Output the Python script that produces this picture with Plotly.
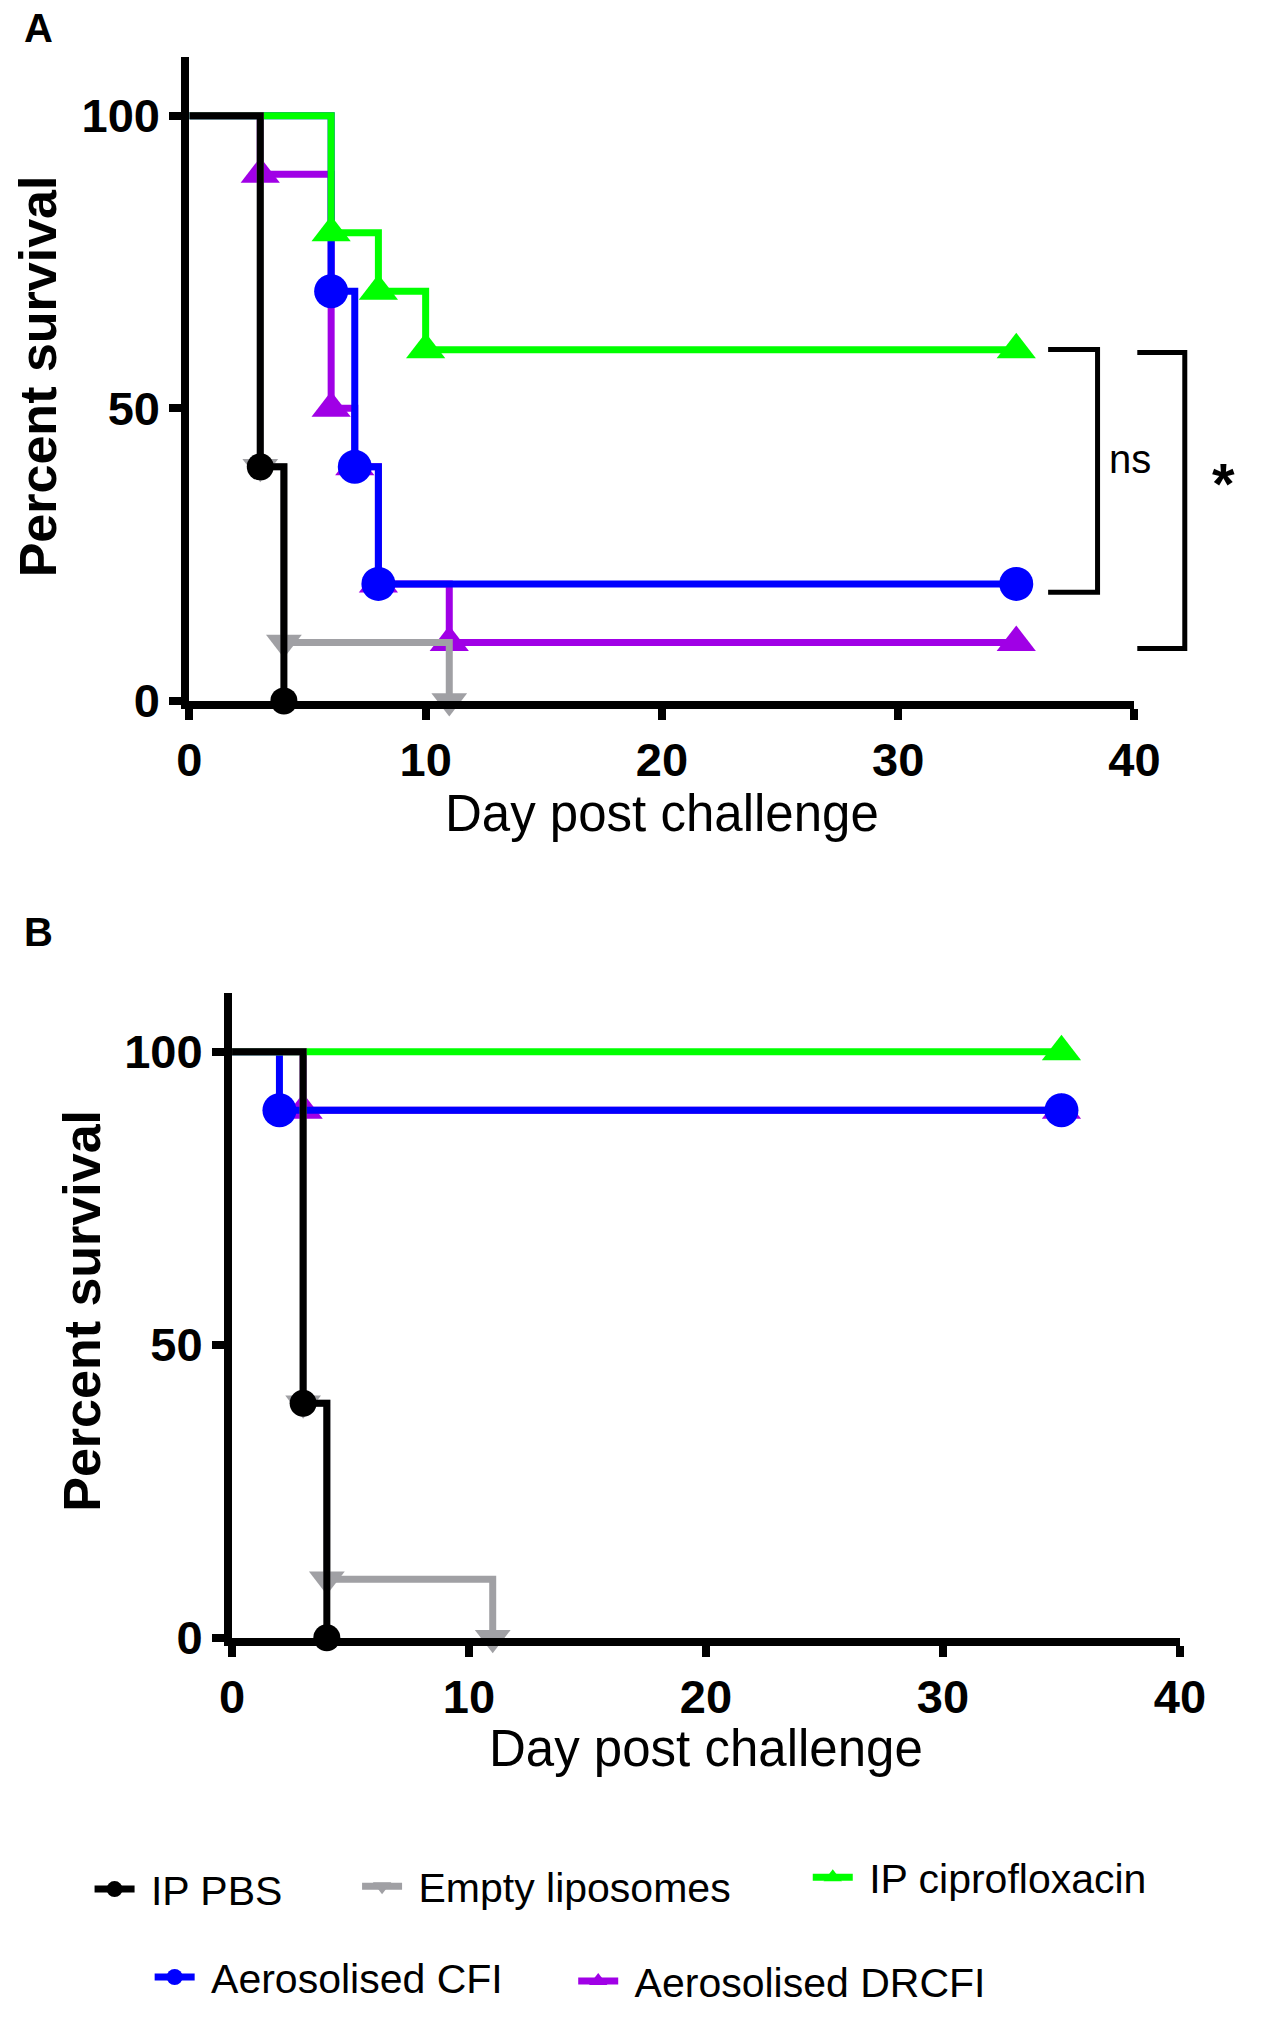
import plotly.graph_objects as go

W, H = 1267, 2028
FONT = "Liberation Sans, Arial, sans-serif"

# ---------------- data ----------------
series_names = ["IP PBS", "Empty liposomes", "IP ciprofloxacin", "Aerosolised CFI", "Aerosolised DRCFI"]
series_colors = ["#000000", "#A0A0A4", "#00FF00", "#0000FF", "#A000E6"]
series_symbols = ["circle", "triangle-down", "triangle-up", "circle", "triangle-up"]

# Panel A: day of event and percent survival after it (first point = start)
a_pbs_day = [0, 3, 4]
a_pbs_surv = [100, 40, 0]
a_empty_day = [0, 3, 4, 11]
a_empty_surv = [100, 40, 10, 0]
a_cipro_day = [0, 6, 8, 10, 35]
a_cipro_surv = [100, 80, 70, 60, 60]
a_cfi_day = [0, 6, 7, 8, 35]
a_cfi_surv = [100, 70, 40, 20, 20]
a_drcfi_day = [0, 3, 6, 7, 8, 11, 35]
a_drcfi_surv = [100, 90, 50, 40, 20, 10, 10]

# Panel B
b_pbs_day = [0, 3, 4]
b_pbs_surv = [100, 40, 0]
b_empty_day = [0, 3, 4, 11]
b_empty_surv = [100, 40, 10, 0]
b_cipro_day = [0, 35]
b_cipro_surv = [100, 100]
b_cfi_day = [0, 2, 35]
b_cfi_surv = [100, 90, 90]
b_drcfi_day = [0, 3, 35]
b_drcfi_surv = [100, 90, 90]

x_tick_vals = [0, 10, 20, 30, 40]
y_tick_vals = [0, 50, 100]

panel_a = [(a_pbs_day, a_pbs_surv), (a_empty_day, a_empty_surv), (a_cipro_day, a_cipro_surv),
           (a_cfi_day, a_cfi_surv), (a_drcfi_day, a_drcfi_surv)]
panel_b = [(b_pbs_day, b_pbs_surv), (b_empty_day, b_empty_surv), (b_cipro_day, b_cipro_surv),
           (b_cfi_day, b_cfi_surv), (b_drcfi_day, b_drcfi_surv)]

# ---------------- styling ----------------
marker_sizes = [27, 31, 34, 34, 34]
LINE_W = 7
AXIS_W = 8


def px_x(x):
    return x / W


def px_y(y):
    return 1 - y / H


fig = go.Figure()

# draw order: last data set at the bottom, first on top
draw_order = [4, 3, 2, 1, 0]
for panel, (xa, ya) in ((panel_a, ("x", "y")), (panel_b, ("x2", "y2"))):
    for i in draw_order:
        days, surv = panel[i]
        fig.add_trace(go.Scatter(
            x=days, y=surv, mode="lines", line=dict(color=series_colors[i], width=LINE_W, shape="hv"),
            xaxis=xa, yaxis=ya, showlegend=False, hoverinfo="skip", cliponaxis=False))
        fig.add_trace(go.Scatter(
            x=days[1:], y=surv[1:], mode="markers",
            marker=dict(color=series_colors[i], symbol=series_symbols[i], size=marker_sizes[i],
                        line=dict(width=0)),
            xaxis=xa, yaxis=ya, showlegend=False, hoverinfo="skip", cliponaxis=False))

# legend entries, one legend per entry so each can be placed like the reference
legend_ids = ["legend", "legend2", "legend3", "legend4", "legend5"]
for i, name in enumerate(series_names):
    fig.add_trace(go.Scatter(
        x=[None], y=[None], mode="lines+markers", name="\u00a0" + name,
        line=dict(color=series_colors[i], width=LINE_W),
        marker=dict(color=series_colors[i], symbol=series_symbols[i], size=marker_sizes[i]),
        legend=legend_ids[i], xaxis="x", yaxis="y"))

# text start (px) and centre y (px) of each legend entry
legend_text_x = [151, 427, 892, 213, 650]
legend_mid_y = [1914, 1911, 1902, 2003, 2007]
leg_layout = {}
for i, lid in enumerate(legend_ids):
    leg_layout[lid] = dict(
        x=px_x(legend_text_x[i] - 72), y=px_y(legend_mid_y[i]), xanchor="left", yanchor="middle",
        bgcolor="rgba(0,0,0,0)", borderwidth=0, orientation="h", itemwidth=40,
        font=dict(family=FONT, size=41, color="black"), itemsizing="trace")

tick_font = dict(family=FONT, size=47, color="black", weight="bold")


def xaxis_cfg(domain, anchor):
    return dict(domain=domain, anchor=anchor, range=[0, 40], tickmode="array", tickvals=x_tick_vals,
                showgrid=False, zeroline=False, showline=True, linecolor="black", linewidth=AXIS_W,
                ticks="outside", ticklen=11, tickwidth=AXIS_W, tickcolor="black", tickfont=tick_font)


def yaxis_cfg(domain, anchor):
    return dict(domain=domain, anchor=anchor, range=[0, 110], tickmode="array", tickvals=y_tick_vals,
                showgrid=False, zeroline=False, showline=True, linecolor="black", linewidth=AXIS_W,
                ticks="outside", ticklen=12, tickwidth=AXIS_W, tickcolor="black", tickfont=tick_font)


annotations = [
    dict(text="<b>A</b>", x=px_x(26), y=px_y(28), xref="paper", yref="paper", showarrow=False,
         font=dict(family=FONT, size=40, color="black"), xanchor="center", yanchor="middle"),
    dict(text="<b>B</b>", x=px_x(26), y=px_y(944), xref="paper", yref="paper", showarrow=False,
         font=dict(family=FONT, size=40, color="black"), xanchor="center", yanchor="middle"),
    dict(text="<b>Percent survival</b>", x=px_x(26), y=px_y(381), xref="paper", yref="paper",
         showarrow=False, textangle=-90, font=dict(family=FONT, size=52, color="black"),
         xanchor="center", yanchor="middle"),
    dict(text="<b>Percent survival</b>", x=px_x(71), y=px_y(1328), xref="paper", yref="paper",
         showarrow=False, textangle=-90, font=dict(family=FONT, size=52, color="black"),
         xanchor="center", yanchor="middle"),
    dict(text="Day post challenge", x=px_x(670), y=px_y(824), xref="paper", yref="paper",
         showarrow=False, font=dict(family=FONT, size=51, color="black"),
         xanchor="center", yanchor="middle"),
    dict(text="Day post challenge", x=px_x(715), y=px_y(1771), xref="paper", yref="paper",
         showarrow=False, font=dict(family=FONT, size=51, color="black"),
         xanchor="center", yanchor="middle"),
    dict(text="ns", x=px_x(1152), y=px_y(465), xref="paper", yref="paper", showarrow=False,
         font=dict(family=FONT, size=40, color="black"), xanchor="center", yanchor="middle"),
    dict(text="<b>*</b>", x=px_x(1249), y=px_y(490), xref="paper", yref="paper", showarrow=False,
         font=dict(family=FONT, size=58, color="black"), xanchor="center", yanchor="middle"),
]

bracket_w = 5
shapes = []
for (x0, x1, y0, y1) in [(1068, 1119, 354, 600), (1160, 1209, 357, 657)]:
    shapes.append(dict(type="path", xref="paper", yref="paper",
                       path=f"M {px_x(x0)},{px_y(y0)} L {px_x(x1)},{px_y(y0)} L {px_x(x1)},{px_y(y1)} L {px_x(x0)},{px_y(y1)}",
                       line=dict(color="black", width=bracket_w)))

fig.update_layout(
    width=W, height=H, margin=dict(l=0, r=0, t=0, b=0),
    paper_bgcolor="white", plot_bgcolor="white",
    xaxis=xaxis_cfg([px_x(182), px_x(1157)], "y"),
    yaxis=yaxis_cfg([px_y(710), px_y(58)], "x"),
    xaxis2=xaxis_cfg([px_x(226), px_x(1204)], "y2"),
    yaxis2=yaxis_cfg([px_y(1659), px_y(1006)], "x2"),
    annotations=annotations, shapes=shapes,
    font=dict(family=FONT, color="black"),
    **leg_layout,
)

fig.write_html("out.html", config={"displayModeBar": False},
               post_script="document.body.style.margin='0';document.body.style.overflow='hidden';")
